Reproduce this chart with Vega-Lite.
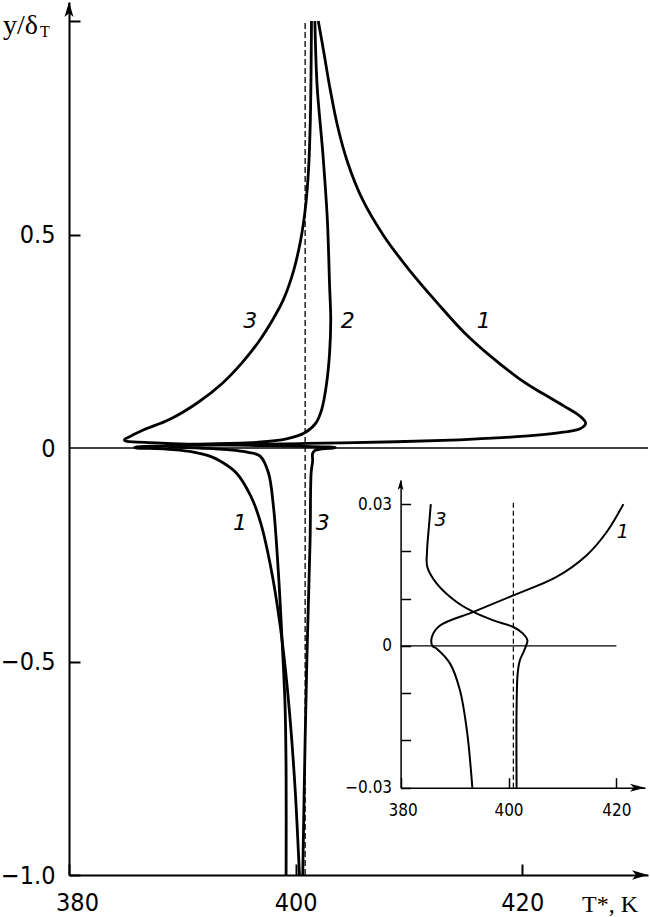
{
  "$schema": "https://vega.github.io/schema/vega-lite/v6.json",
  "width": 579,
  "height": 873,
  "autosize": {"type": "none"},
  "padding": {"left": 69, "top": 2, "right": 2, "bottom": 42},
  "background": "white",
  "config": {
    "view": {"stroke": null},
    "font": "DejaVu Sans",
    "axis": {"grid": false, "domainColor": "black", "tickColor": "black", "labelColor": "black", "titleColor": "black", "labelOverlap": false, "labelFlush": false}
  },
  "datasets": {
    "curves": [
      {"curve": "1", "T": 400.34, "y": -1.0}, {"curve": "1", "T": 399.96, "y": -0.8}, {"curve": "1", "T": 399.54, "y": -0.644},
      {"curve": "1", "T": 399.13, "y": -0.526}, {"curve": "1", "T": 398.6, "y": -0.409}, {"curve": "1", "T": 397.9, "y": -0.292},
      {"curve": "1", "T": 396.91, "y": -0.175}, {"curve": "1", "T": 396.05, "y": -0.113}, {"curve": "1", "T": 394.75, "y": -0.058},
      {"curve": "1", "T": 393.3, "y": -0.03}, {"curve": "1", "T": 392.3, "y": -0.018}, {"curve": "1", "T": 391.0, "y": -0.0094},
      {"curve": "1", "T": 389.2, "y": -0.0038}, {"curve": "1", "T": 386.7, "y": -0.0006}, {"curve": "1", "T": 385.9, "y": 0.0},
      {"curve": "1", "T": 385.8, "y": 0.0019}, {"curve": "1", "T": 387.3, "y": 0.0043}, {"curve": "1", "T": 393.5, "y": 0.0072},
      {"curve": "1", "T": 400.9, "y": 0.0107}, {"curve": "1", "T": 408.9, "y": 0.0146}, {"curve": "1", "T": 414.5, "y": 0.0192},
      {"curve": "1", "T": 418.2, "y": 0.0241}, {"curve": "1", "T": 421.3, "y": 0.03}, {"curve": "1", "T": 423.6, "y": 0.037},
      {"curve": "1", "T": 425.1, "y": 0.045}, {"curve": "1", "T": 425.6, "y": 0.058}, {"curve": "1", "T": 425.1, "y": 0.0745},
      {"curve": "1", "T": 423.7, "y": 0.098}, {"curve": "1", "T": 422.3, "y": 0.12}, {"curve": "1", "T": 421.2, "y": 0.137},
      {"curve": "1", "T": 419.6, "y": 0.165}, {"curve": "1", "T": 417.2, "y": 0.215}, {"curve": "1", "T": 414.9, "y": 0.27},
      {"curve": "1", "T": 412.5, "y": 0.34}, {"curve": "1", "T": 410.0, "y": 0.418}, {"curve": "1", "T": 407.8, "y": 0.496},
      {"curve": "1", "T": 405.9, "y": 0.582}, {"curve": "1", "T": 404.6, "y": 0.668}, {"curve": "1", "T": 403.7, "y": 0.754},
      {"curve": "1", "T": 403.0, "y": 0.847}, {"curve": "1", "T": 402.5, "y": 0.925}, {"curve": "1", "T": 402.0, "y": 1.0},
      {"curve": "2", "T": 399.16, "y": -1.0}, {"curve": "2", "T": 399.16, "y": -0.761}, {"curve": "2", "T": 399.07, "y": -0.605},
      {"curve": "2", "T": 398.8, "y": -0.448}, {"curve": "2", "T": 398.48, "y": -0.292}, {"curve": "2", "T": 398.04, "y": -0.136},
      {"curve": "2", "T": 397.6, "y": -0.058}, {"curve": "2", "T": 396.87, "y": -0.019}, {"curve": "2", "T": 395.8, "y": -0.01},
      {"curve": "2", "T": 394.0, "y": -0.004}, {"curve": "2", "T": 391.5, "y": 0.0}, {"curve": "2", "T": 389.0, "y": 0.003},
      {"curve": "2", "T": 388.6, "y": 0.006}, {"curve": "2", "T": 391.0, "y": 0.009}, {"curve": "2", "T": 396.7, "y": 0.0136},
      {"curve": "2", "T": 399.2, "y": 0.0215}, {"curve": "2", "T": 400.8, "y": 0.0356}, {"curve": "2", "T": 401.8, "y": 0.059},
      {"curve": "2", "T": 402.3, "y": 0.09}, {"curve": "2", "T": 402.7, "y": 0.145}, {"curve": "2", "T": 403.0, "y": 0.223},
      {"curve": "2", "T": 403.1, "y": 0.301}, {"curve": "2", "T": 403.0, "y": 0.379}, {"curve": "2", "T": 402.8, "y": 0.535},
      {"curve": "2", "T": 402.4, "y": 0.691}, {"curve": "2", "T": 401.9, "y": 0.847}, {"curve": "2", "T": 401.7, "y": 1.0},
      {"curve": "3", "T": 400.63, "y": -1.0}, {"curve": "3", "T": 400.84, "y": -0.683}, {"curve": "3", "T": 401.04, "y": -0.448},
      {"curve": "3", "T": 401.28, "y": -0.214}, {"curve": "3", "T": 401.37, "y": -0.058}, {"curve": "3", "T": 401.5, "y": -0.03},
      {"curve": "3", "T": 401.5, "y": -0.013}, {"curve": "3", "T": 401.7, "y": -0.0058}, {"curve": "3", "T": 402.1, "y": -0.0031},
      {"curve": "3", "T": 402.9, "y": -0.001}, {"curve": "3", "T": 403.4, "y": 0.0005}, {"curve": "3", "T": 403.5, "y": 0.0012},
      {"curve": "3", "T": 402.7, "y": 0.0026}, {"curve": "3", "T": 400.9, "y": 0.004}, {"curve": "3", "T": 397.2, "y": 0.0054},
      {"curve": "3", "T": 393.5, "y": 0.0072}, {"curve": "3", "T": 390.4, "y": 0.0093}, {"curve": "3", "T": 386.7, "y": 0.0132},
      {"curve": "3", "T": 384.95, "y": 0.0167}, {"curve": "3", "T": 384.9, "y": 0.02}, {"curve": "3", "T": 385.3, "y": 0.0259},
      {"curve": "3", "T": 385.6, "y": 0.03}, {"curve": "3", "T": 386.65, "y": 0.0433}, {"curve": "3", "T": 388.86, "y": 0.0667},
      {"curve": "3", "T": 391.38, "y": 0.1066}, {"curve": "3", "T": 393.59, "y": 0.153}, {"curve": "3", "T": 395.28, "y": 0.2},
      {"curve": "3", "T": 396.69, "y": 0.247}, {"curve": "3", "T": 397.99, "y": 0.301}, {"curve": "3", "T": 398.93, "y": 0.348},
      {"curve": "3", "T": 399.85, "y": 0.418}, {"curve": "3", "T": 400.5, "y": 0.495}, {"curve": "3", "T": 400.88, "y": 0.566},
      {"curve": "3", "T": 401.14, "y": 0.652}, {"curve": "3", "T": 401.3, "y": 0.769}, {"curve": "3", "T": 401.4, "y": 1.0}
    ],
    "mainLabels": [
      {"t": "3", "T": 396.0, "y": 0.297}, {"t": "2", "T": 404.6, "y": 0.297}, {"t": "1", "T": 416.6, "y": 0.297},
      {"t": "1", "T": 395.1, "y": -0.175}, {"t": "3", "T": 402.4, "y": -0.175}
    ],
    "insetLabels": [
      {"t": "3", "T": 387.4, "y": 0.0266}, {"t": "1", "T": 421.2, "y": 0.024}
    ],
    "mainZero": [{"T": 380, "T2": 431.1, "y": 0}],
    "mainDash": [{"T": 400.84, "y": -1.0, "y2": 1.0}],
    "mainUp": [{"T": 380, "y": 1.0445}],
    "mainRight": [{"T": 431.1, "y": -1.0}],
    "mainSub": [{"t": "T", "T": 377.44, "y": 0.9614}],
    "insetZero": [{"T": 380, "T2": 420, "y": 0}],
    "insetDash": [{"T": 400.9, "y": -0.03, "y2": 0.0304}],
    "insetUp": [{"T": 380, "y": 0.0351}],
    "insetRight": [{"T": 425.3, "y": -0.03}]
  },
  "layer": [
    {
      "layer": [
        {
          "data": {"name": "curves"},
          "mark": {"type": "line", "color": "black", "strokeWidth": 2.8, "interpolate": "catmull-rom", "strokeJoin": "round"},
          "encoding": {
            "x": {"field": "T", "type": "quantitative",
              "scale": {"domain": [380, 431.1], "nice": false, "zero": false},
              "axis": {
                "values": [380, 400, 420], "format": "d",
                "labelFont": "DejaVu Sans Condensed, DejaVu Sans", "labelFontSize": 25, "labelPadding": 26,
                "labelOffset": {"condition": {"test": "datum.value == 380", "value": 8}, "value": 0},
                "tickSize": -11, "tickWidth": 2, "domainWidth": 2,
                "title": "T*, K", "titleFont": "Liberation Serif", "titleFontSize": 24, "titleFontWeight": "normal",
                "titleX": 512.5, "titleY": 36.5, "titleAlign": "left", "titleBaseline": "alphabetic", "titleAngle": 0
              }
            },
            "y": {"field": "y", "type": "quantitative",
              "scale": {"domain": [-1, 1.0445], "nice": false, "zero": false},
              "axis": {
                "values": [-1, -0.5, 0, 0.5, 1],
                "labelExpr": "datum.value == 1 ? '' : datum.value == 0 ? '0' : format(datum.value, '.1f')",
                "labelFont": "DejaVu Sans Condensed, DejaVu Sans", "labelFontSize": 25, "labelPadding": 25,
                "tickSize": -11, "tickWidth": 2, "domainWidth": 2,
                "tickOpacity": {"condition": {"test": "datum.value == 0", "value": 0}, "value": 1},
                "title": "y/δ", "titleFont": "Liberation Serif", "titleFontSize": 28, "titleFontWeight": "normal",
                "titleAngle": 0, "titleX": -66.5, "titleY": 31, "titleAlign": "left", "titleBaseline": "alphabetic"
              }
            },
            "detail": {"field": "curve", "type": "nominal"},
            "order": {"field": "y", "type": "quantitative"}
          }
        },
        {
          "data": {"name": "mainZero"},
          "mark": {"type": "rule", "color": "black", "strokeWidth": 1.3},
          "encoding": {
            "x": {"field": "T", "type": "quantitative", "scale": {"domain": [380, 431.1], "nice": false, "zero": false}},
            "x2": {"field": "T2"},
            "y": {"field": "y", "type": "quantitative", "scale": {"domain": [-1, 1.0445], "nice": false, "zero": false}}
          }
        },
        {
          "data": {"name": "mainDash"},
          "mark": {"type": "rule", "color": "black", "strokeWidth": 1.3, "strokeDash": [6, 3]},
          "encoding": {
            "x": {"field": "T", "type": "quantitative", "scale": {"domain": [380, 431.1], "nice": false, "zero": false}},
            "y": {"field": "y", "type": "quantitative", "scale": {"domain": [-1, 1.0445], "nice": false, "zero": false}},
            "y2": {"field": "y2"}
          }
        },
        {
          "data": {"name": "mainLabels"},
          "mark": {"type": "text", "color": "black", "font": "DejaVu Sans", "fontStyle": "italic", "fontSize": 22, "align": "center", "baseline": "middle"},
          "encoding": {
            "x": {"field": "T", "type": "quantitative", "scale": {"domain": [380, 431.1], "nice": false, "zero": false}},
            "y": {"field": "y", "type": "quantitative", "scale": {"domain": [-1, 1.0445], "nice": false, "zero": false}},
            "text": {"field": "t"}
          }
        },
        {
          "data": {"name": "mainSub"},
          "mark": {"type": "text", "color": "black", "font": "Liberation Serif", "fontSize": 16, "align": "left", "baseline": "alphabetic"},
          "encoding": {
            "x": {"field": "T", "type": "quantitative", "scale": {"domain": [380, 431.1], "nice": false, "zero": false}},
            "y": {"field": "y", "type": "quantitative", "scale": {"domain": [-1, 1.0445], "nice": false, "zero": false}},
            "text": {"field": "t"}
          }
        },
        {
          "data": {"name": "mainUp"},
          "mark": {"type": "point", "filled": true, "color": "black", "opacity": 1, "strokeWidth": 0, "size": 225, "shape": "M0,0 L-0.6,2 L0,1.5 L0.6,2 Z"},
          "encoding": {
            "x": {"field": "T", "type": "quantitative", "scale": {"domain": [380, 431.1], "nice": false, "zero": false}},
            "y": {"field": "y", "type": "quantitative", "scale": {"domain": [-1, 1.0445], "nice": false, "zero": false}}
          }
        },
        {
          "data": {"name": "mainRight"},
          "mark": {"type": "point", "filled": true, "color": "black", "opacity": 1, "strokeWidth": 0, "size": 256, "shape": "M0,0 L-2,-0.6 L-1.5,0 L-2,0.6 Z"},
          "encoding": {
            "x": {"field": "T", "type": "quantitative", "scale": {"domain": [380, 431.1], "nice": false, "zero": false}},
            "y": {"field": "y", "type": "quantitative", "scale": {"domain": [-1, 1.0445], "nice": false, "zero": false}}
          }
        }
      ]
    },
    {
      "layer": [
        {
          "data": {"name": "curves"},
          "transform": [{"filter": "datum.curve != '2' && datum.y >= -0.0301 && datum.y <= 0.0301"}],
          "mark": {"type": "line", "color": "black", "strokeWidth": 2, "interpolate": "catmull-rom", "strokeJoin": "round"},
          "encoding": {
            "x": {"field": "T", "type": "quantitative",
              "scale": {"domain": [380, 425.3], "range": [331.6, 576], "nice": false, "zero": false},
              "axis": {
                "orient": "bottom", "offset": -87.3,
                "values": [380, 400, 420], "format": "d",
                "labelFont": "DejaVu Sans Condensed, DejaVu Sans", "labelFontSize": 17, "labelPadding": 25,
                "labelOffset": {"condition": {"test": "datum.value == 380", "value": 2}, "value": 0},
                "tickSize": -10, "tickWidth": 1.5, "domainWidth": 1.5, "title": null
              }
            },
            "y": {"field": "y", "type": "quantitative",
              "scale": {"domain": [-0.03, 0.0351], "range": [785.7, 478], "nice": false, "zero": false},
              "axis": {
                "orient": "left", "offset": -331.6,
                "values": [-0.03, -0.02, -0.01, 0, 0.01, 0.02, 0.03],
                "labelExpr": "datum.value == 0 ? '0' : abs(datum.value) > 0.025 ? format(datum.value, '.2f') : ''",
                "labelFont": "DejaVu Sans Condensed, DejaVu Sans", "labelFontSize": 17, "labelPadding": 19,
                "tickSize": -10, "tickWidth": 1.5, "domainWidth": 1.5, "title": null
              }
            },
            "detail": {"field": "curve", "type": "nominal"},
            "order": {"field": "y", "type": "quantitative"}
          }
        },
        {
          "data": {"name": "insetZero"},
          "mark": {"type": "rule", "color": "black", "strokeWidth": 1.3},
          "encoding": {
            "x": {"field": "T", "type": "quantitative", "scale": {"domain": [380, 425.3], "range": [331.6, 576], "nice": false, "zero": false}},
            "x2": {"field": "T2"},
            "y": {"field": "y", "type": "quantitative", "scale": {"domain": [-0.03, 0.0351], "range": [785.7, 478], "nice": false, "zero": false}}
          }
        },
        {
          "data": {"name": "insetDash"},
          "mark": {"type": "rule", "color": "black", "strokeWidth": 1.2, "strokeDash": [5, 3]},
          "encoding": {
            "x": {"field": "T", "type": "quantitative", "scale": {"domain": [380, 425.3], "range": [331.6, 576], "nice": false, "zero": false}},
            "y": {"field": "y", "type": "quantitative", "scale": {"domain": [-0.03, 0.0351], "range": [785.7, 478], "nice": false, "zero": false}},
            "y2": {"field": "y2"}
          }
        },
        {
          "data": {"name": "insetLabels"},
          "mark": {"type": "text", "color": "black", "font": "DejaVu Sans", "fontStyle": "italic", "fontSize": 19, "align": "center", "baseline": "middle"},
          "encoding": {
            "x": {"field": "T", "type": "quantitative", "scale": {"domain": [380, 425.3], "range": [331.6, 576], "nice": false, "zero": false}},
            "y": {"field": "y", "type": "quantitative", "scale": {"domain": [-0.03, 0.0351], "range": [785.7, 478], "nice": false, "zero": false}},
            "text": {"field": "t"}
          }
        },
        {
          "data": {"name": "insetUp"},
          "mark": {"type": "point", "filled": true, "color": "black", "opacity": 1, "strokeWidth": 0, "size": 100, "shape": "M0,0 L-0.6,2 L0,1.5 L0.6,2 Z"},
          "encoding": {
            "x": {"field": "T", "type": "quantitative", "scale": {"domain": [380, 425.3], "range": [331.6, 576], "nice": false, "zero": false}},
            "y": {"field": "y", "type": "quantitative", "scale": {"domain": [-0.03, 0.0351], "range": [785.7, 478], "nice": false, "zero": false}}
          }
        },
        {
          "data": {"name": "insetRight"},
          "mark": {"type": "point", "filled": true, "color": "black", "opacity": 1, "strokeWidth": 0, "size": 225, "shape": "M0,0 L-2,-0.53 L-1.5,0 L-2,0.53 Z"},
          "encoding": {
            "x": {"field": "T", "type": "quantitative", "scale": {"domain": [380, 425.3], "range": [331.6, 576], "nice": false, "zero": false}},
            "y": {"field": "y", "type": "quantitative", "scale": {"domain": [-0.03, 0.0351], "range": [785.7, 478], "nice": false, "zero": false}}
          }
        }
      ]
    }
  ],
  "resolve": {"scale": {"x": "independent", "y": "independent"}, "axis": {"x": "independent", "y": "independent"}}
}
